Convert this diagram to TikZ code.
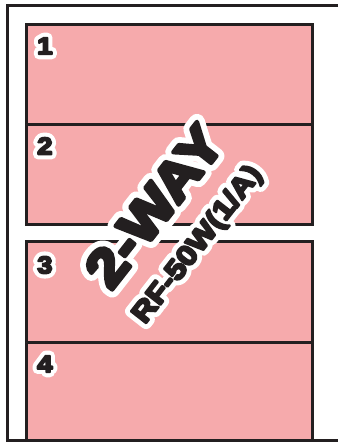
\documentclass[tikz,border=0pt]{standalone}
\usepackage{fontspec}
\newfontfamily\inkfont[FakeStretch=1.15, FakeBold=8]{Liberation Sans Bold}
\newfontfamily\halofont[FakeStretch=1.15, FakeBold=30]{Liberation Sans Bold}
\newfontfamily\halofontsmall[FakeStretch=1.15, FakeBold=42]{Liberation Sans Bold}
% white rim behind black letters (round joins for the rim)
\newcommand\outlined[2]{\special{pdf:code 1 j 1 J}\rlap{\color{white}#1#2}\inkfont #2}

\definecolor{tagpink}{RGB}{246,170,172}
\definecolor{inkblack}{RGB}{35,31,32}

\tikzset{
  frameline/.style={inkblack, line width=3pt},
  slotbox/.style={fill=tagpink, draw=inkblack, line width=3pt},
  slotnum/.style={text=inkblack, anchor=west, inner sep=0pt,
    font=\fontsize{24}{24}\selectfont},
  tagtext/.style={text=inkblack, inner sep=0pt, rotate=52}
}

\begin{document}
\begin{tikzpicture}[x=1pt, y=-1pt]
  \useasboundingbox (0,0) rectangle (338,442);
  % outer frame, open on the right
  \draw[frameline] (338,5) -- (7.5,5) -- (7.5,440.5) -- (338,440.5);
  % upper pair of slots
  \draw[slotbox] (26.5,24.5) rectangle (312,224);
  \draw[slotbox] (26.5,124) -- (312,124);
  % lower pair of slots
  \draw[slotbox] (26.5,241.5) rectangle (312,440.5);
  \draw[slotbox] (26.5,342) -- (312,342);
  % slot numbers
  \node[slotnum] (n1) at (37,46) {\outlined{\halofontsmall}{1}};
  \node[slotnum] (n2) at (37,146) {\outlined{\halofontsmall}{2}};
  \node[slotnum] (n3) at (37,265) {\outlined{\halofontsmall}{3}};
  \node[slotnum] (n4) at (37,364) {\outlined{\halofontsmall}{4}};
  % rotated label
  \node[tagtext, font=\fontsize{53}{53}\selectfont] (way) at (154,206) {\outlined{\halofont}{2-WAY}};
  \node[tagtext, font=\fontsize{28}{28}\selectfont] (model) at (198,245) {\outlined{\halofontsmall}{RF-50W(1/A)}};
\end{tikzpicture}
\end{document}
